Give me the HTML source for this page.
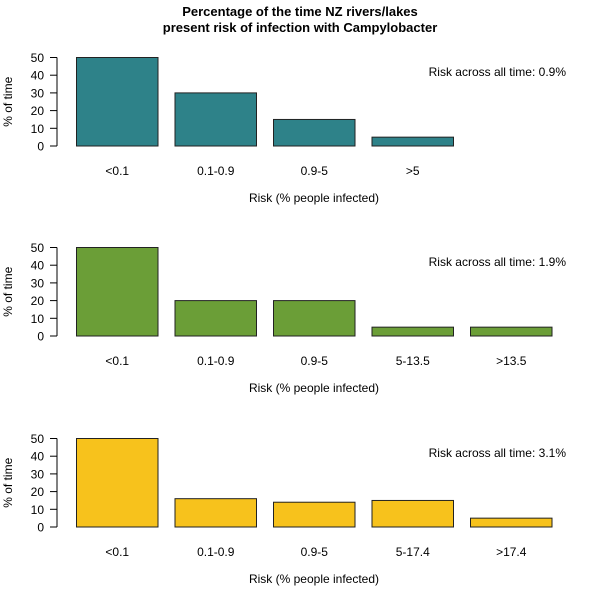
<!DOCTYPE html>
<html><head><meta charset="utf-8"><style>body{margin:0;background:#fff}svg{display:block;font-family:"Liberation Sans",Arial,sans-serif}</style></head>
<body>
<svg id="c" width="600" height="600">
<text x="300" y="16" text-anchor="middle" font-size="13" font-weight="bold">Percentage of the time NZ rivers/lakes</text>
<text x="300" y="32" text-anchor="middle" font-size="13" font-weight="bold">present risk of infection with Campylobacter</text>
</svg>
<script>
const cats1=["<0.1","0.1-0.9","0.9-5",">5"];
const vals1=[50,30,15,5];
const cats2=["<0.1","0.1-0.9","0.9-5","5-13.5",">13.5"];
const vals2=[50,20,20,5,5];
const cats3=["<0.1","0.1-0.9","0.9-5","5-17.4",">17.4"];
const vals3=[50,16,14,15,5];
const ticks=[0,10,20,30,40,50];
const notes=["Risk across all time: 0.9%","Risk across all time: 1.9%","Risk across all time: 3.1%"];
const svg=document.getElementById('c');const NS='http://www.w3.org/2000/svg';
function mk(t,a,txt){const e=document.createElementNS(NS,t);for(const k in a)e.setAttribute(k,a[k]);if(txt!==undefined)e.textContent=txt;svg.appendChild(e);return e;}
const panels=[{c:cats1,v:vals1,y0:146,col:"#2e8289"},{c:cats2,v:vals2,y0:336,col:"#6b9e37"},{c:cats3,v:vals3,y0:527,col:"#f7c21c"}];
panels.forEach((p,i)=>{
 const y=v=>p.y0-v*(88.5/50);
 const x=j=>76.5+j*98.5;
 let e=mk('line',{x1:57,x2:57,y1:y(0),y2:y(50),stroke:'#000'});
 
 
 ticks.forEach(t=>{
  e=mk('line',{x1:50,x2:57,y1:y(t),y2:y(t),stroke:'#000'});
  
  
  e=mk('text',{x:44,y:y(t)+4.5,'text-anchor':'end','font-size':12},String(t));
  
  
 });
 const mid=(y(0)+y(50))/2;
 e=mk('text',{x:12,y:mid,'text-anchor':'middle','font-size':12,transform:`rotate(-90 12 ${mid})`},'% of time');
 
 
 p.v.forEach((v,j)=>{
  e=mk('rect',{x:x(j),y:y(v),width:81.5,height:y(0)-y(v),fill:p.col,stroke:'#222','stroke-width':1});
  
  
  e=mk('text',{x:x(j)+40.75,y:p.y0+29,'text-anchor':'middle','font-size':12},p.c[j]);
  
  
 });
 e=mk('text',{x:314,y:p.y0+56,'text-anchor':'middle','font-size':12},'Risk (% people infected)');
 
 
 e=mk('text',{x:566,y:p.y0-70,'text-anchor':'end','font-size':12},notes[i]);
 
 
});
</script>
</body></html>
